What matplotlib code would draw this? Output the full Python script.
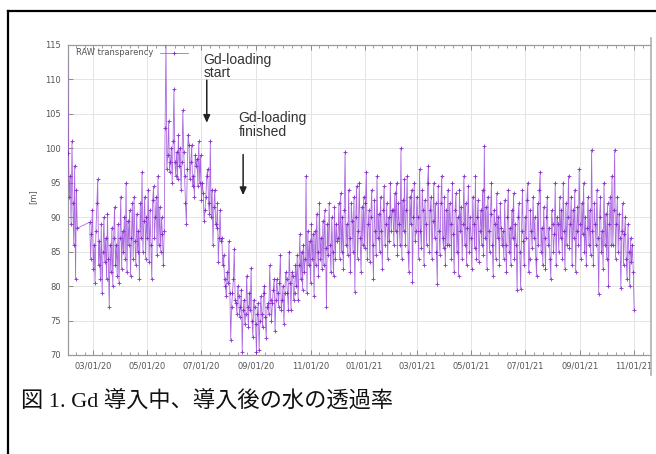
import matplotlib
matplotlib.use("Agg")
import matplotlib.pyplot as plt
import matplotlib.dates as mdates
from matplotlib.lines import Line2D
import numpy as np
import pandas as pd

# ---------------- data (daily values in m) ----------------
seg0_start = "2020-02-01"
seg0_vals = [115.5, 99.3, 93, 96, 89, 101, 92, 86, 97.5, 81, 94, 88.4]

seg1_start = "2020-02-26"
seg1_vals = [89.3, 84, 87.5, 91, 82.5, 86, 80.5, 88, 92, 95.5,
             83, 86.5, 81, 89, 79, 85, 90, 83.5, 87, 81,
             90.5, 84, 77, 86, 82, 88.5, 80, 87, 91.5, 83,
             86, 81.5, 89, 80.5, 87, 93, 82.5, 88, 85, 90,
             84, 95, 82, 89.5, 86, 91, 81.5, 87, 92, 84,
             93, 86.5, 83, 90.5, 85, 88, 81, 92, 87, 96.5,
             85, 89.5, 93, 84, 90, 87, 94, 83.5, 91, 86,
             81, 92.5, 94.5, 87, 90, 93, 84.5, 96, 86, 91.5,
             85, 90, 87.5, 83, 88]

seg2_start = "2020-05-21"
seg2_vals = [103, 115.5, 97, 99, 104, 96.5, 98, 100, 95, 101,
             108.6, 98, 96, 99.5, 95.5, 102, 97.5, 100, 94, 98,
             105.5, 99.5, 96, 92, 89, 97, 102, 100.5, 95.5, 98,
             100.5, 94.5, 96, 93, 99, 97.5, 98.5, 94.5, 101, 95,
             99, 92.5]

seg3_start = "2020-07-02"
seg3_vals = [95, 93.5, 89.5, 91, 93, 96, 97, 92, 90.5, 101,
             90, 94, 86, 91.5, 94, 89, 88.5, 92, 83.5, 87,
             91, 86.5, 87, 83, 84.5]

seg4_start = "2020-07-27"
seg4_vals = [81, 80, 78.5, 82, 80.5, 86.5, 79, 72.2, 77, 79,
             81, 85.4, 78, 77.5, 76, 80, 78.5, 75.5, 77, 79.5,
             70.4, 76.5, 78, 74.5, 76, 81.5, 77, 74, 79, 76.5,
             82.6, 75, 72.6, 78, 77, 74.5, 70.5]

seg5_start = "2020-09-02"
seg5_vals = [76, 77.5, 70.7, 75, 78.5, 76, 74, 79, 80, 75.5,
             72.5, 77, 77.5, 76, 83, 78, 75, 77.5, 79.5, 81,
             73.5, 78, 81, 79, 77, 80.5, 84.5, 76.5, 78, 80,
             74.5, 79, 82, 81, 79, 76.5, 85, 80.5, 76.5, 82,
             81.5, 78, 79, 83]

seg6_start = "2020-10-16"
seg6_vals = [80, 84.5, 78, 83, 87.5, 81, 85, 79.5, 86, 82,
             84, 96, 79, 88, 83, 86.5, 80.5, 89, 84, 87.5,
             78.5, 88, 83, 90.5, 85, 81.5, 92, 84, 87, 82.5,
             89.5, 83, 91, 85.5, 77, 89, 84.5, 92, 86, 82,
             90, 85, 81.5, 91.5, 84, 89, 86.5]

seg7_start = "2020-12-02"
seg7_vals = [87, 92, 84, 93.5, 85, 90, 82.5, 91, 99.5, 86,
             89, 84.5, 94, 87, 82, 92, 89.5, 85, 93, 79.2,
             90, 94.5, 84, 88, 95, 87, 82, 91.5, 86, 93,
             85.5, 92, 96.5, 84, 89, 91, 83.5, 90, 94, 86,
             81, 92.5, 88, 84.5, 96, 87, 90.5, 85, 93, 88,
             82.5, 91, 94.5, 86, 89, 92, 84, 90, 86.5, 95,
             88, 91]

seg8_start = "2021-02-02"
seg8_vals = [91, 86, 93.5, 88, 95, 84.5, 92, 89, 86, 100,
             84, 92.5, 88, 95.5, 86, 91, 96, 85, 82, 93,
             89, 94, 80.6, 90, 95, 86.5, 88, 93, 90, 84,
             97, 88, 85.5, 94, 91, 83, 92.5, 89, 86, 95,
             97.5, 85, 91, 93, 84, 89.5, 95, 87, 92, 85,
             80.3, 94.5, 88, 84.5, 92, 96, 87, 85.5, 93, 83,
             91, 86, 94]

seg9_start = "2021-04-06"
seg9_vals = [86, 92, 89, 84, 95, 87.5, 82, 91, 93.5, 85,
             90, 81.5, 94, 88, 91.5, 84, 89, 96, 86, 92,
             83, 88.5, 94.5, 85, 90, 87, 82.5, 93, 89, 85.5,
             96, 84, 90, 92.5, 83.5, 88, 91, 86, 94, 84.5,
             100.3, 87, 91.5, 82.5, 93, 88, 85, 90.5, 95, 86,
             81.5, 91, 89, 84, 93.5, 87, 90, 83, 92, 88.5,
             86]

seg10_start = "2021-06-06"
seg10_vals = [88, 84, 92.5, 86, 82, 90, 94, 85, 88.5, 83,
              91, 87, 93.5, 84, 89, 86, 79.4, 90, 92, 85,
              79.6, 88, 94, 86.5, 83, 90, 87, 92.5, 95, 82,
              84, 91, 88, 85.5, 93, 87, 90, 84, 81.5, 92,
              86, 94, 96.5, 85, 88.5, 83, 91.5, 87, 82.5, 90,
              93, 86, 88.5, 84, 81, 91, 89, 85, 87.5, 95,
              83, 90]

seg11_start = "2021-08-07"
seg11_vals = [89, 85, 93, 87, 91, 84, 95, 88, 82.5, 92,
              86, 90, 96, 85.5, 89, 93, 83, 91, 87, 94,
              82, 88, 91.5, 86, 97, 89, 84, 92, 87.5, 95,
              85, 90, 83, 88.5, 93, 86, 91, 84.5, 99.8, 88,
              83, 92, 89, 86, 94, 87, 78.9, 90, 93, 85,
              88, 82.5, 95, 86, 90.5, 84, 92, 80, 89, 93,
              86, 96]

seg12_start = "2021-10-08"
seg12_vals = [86, 91, 99.8, 84, 89, 93, 85, 90.5, 87, 79.7,
              88, 92, 83, 87.5, 90, 84, 81, 89, 85, 80,
              87, 83.5, 86, 82, 76.5]

segments = [
    (seg0_start, seg0_vals), (seg1_start, seg1_vals), (seg2_start, seg2_vals),
    (seg3_start, seg3_vals), (seg4_start, seg4_vals), (seg5_start, seg5_vals),
    (seg6_start, seg6_vals), (seg7_start, seg7_vals), (seg8_start, seg8_vals),
    (seg9_start, seg9_vals), (seg10_start, seg10_vals), (seg11_start, seg11_vals),
    (seg12_start, seg12_vals),
]

series_label = "RAW transparency"
y_label = "[m]"
caption = "図 1. Gd 導入中、導入後の水の透過率"
ann_start = "Gd-loading\nstart"
ann_finish = "Gd-loading\nfinished"

dates = []
values = []
for start, vals in segments:
    dates.extend(list(pd.date_range(start, periods=len(vals), freq="1D")))
    values.extend(vals)
dates = pd.to_datetime(dates)
values = np.array(values, dtype=float)

# ---------------- figure ----------------
W, H = 656, 454
fig = plt.figure(figsize=(W / 100, H / 100), dpi=100)
fig.patch.set_facecolor("white")

def fx(px):
    return px / W

def fy(py):
    return 1 - py / H

ax_l, ax_r, ax_t, ax_b = 68, 651, 45, 355
ax = fig.add_axes([fx(ax_l), fy(ax_b), fx(ax_r) - fx(ax_l), fy(ax_t) - fy(ax_b)])

ax.plot(dates, values, color="#9644d8", lw=0.6, alpha=0.8,
        marker="+", ms=2.4, mew=0.65, mec="#7612c4", label=series_label, zorder=3)

ax.set_ylim(70, 115)
ax.set_xlim(pd.Timestamp("2020-02-01 12:00"), pd.Timestamp("2021-11-20"))
ax.set_yticks(np.arange(70, 116, 5))
ax.xaxis.set_major_locator(mdates.MonthLocator(bymonth=[1, 3, 5, 7, 9, 11]))
ax.xaxis.set_major_formatter(mdates.DateFormatter("%m/%d/%y"))
ax.xaxis.set_minor_locator(mdates.DayLocator(bymonthday=[1, 11, 21]))

ax.grid(True, which="major", color="#e4e4e4", lw=0.7, zorder=0)
for s in ["left", "bottom", "top"]:
    ax.spines[s].set_color("#9a9a9a")
    ax.spines[s].set_linewidth(0.9)
ax.spines["right"].set_visible(False)
ax.tick_params(axis="both", which="both", direction="in", colors="#8a8a8a",
               labelcolor="#555555", labelsize=6, top=True, right=False)
ax.tick_params(axis="both", which="major", length=3.5, width=0.7)
ax.tick_params(axis="x", which="minor", length=2, width=0.6)
ax.tick_params(axis="y", which="major", pad=5)
ax.tick_params(axis="x", which="major", pad=5)

leg = ax.legend(loc="upper left", bbox_to_anchor=(0.005, 1.005), frameon=False,
                markerfirst=False, fontsize=6, handlelength=3.4,
                handletextpad=0.8, borderaxespad=0.2)
for t in leg.get_texts():
    t.set_color("#555555")

# annotations
ann_kw = dict(fontsize=10, family=["Liberation Sans", "DejaVu Sans"], color="#333333",
              ha="left", va="top", linespacing=0.95)
ax.text(pd.Timestamp("2020-07-03"), 113.9, ann_start, **ann_kw)
ax.text(pd.Timestamp("2020-08-12"), 105.4, ann_finish, **ann_kw)
arrow_kw = dict(arrowstyle="-|>,head_length=0.45,head_width=0.2", color="#222222", lw=1.1)
ax.annotate("", xy=(pd.Timestamp("2020-07-07"), 103.3), xytext=(pd.Timestamp("2020-07-07"), 110.3),
            arrowprops=arrow_kw)
ax.annotate("", xy=(pd.Timestamp("2020-08-17"), 92.8), xytext=(pd.Timestamp("2020-08-17"), 99.5),
            arrowprops=arrow_kw)

# y label
fig.text(fx(33), fy(197), y_label, rotation=90, fontsize=6, color="#555555",
         ha="center", va="center")

# embedded image right edge and outer black frame
fig.add_artist(Line2D([fx(651), fx(651)], [fy(38), fy(375)], color="#b0b0b0", lw=1.2))
fig.add_artist(Line2D([fx(7.5), fx(7.5)], [fy(11), 0], color="black", lw=1.6))
fig.add_artist(Line2D([fx(7.5), 1], [fy(11), fy(11)], color="black", lw=1.6))

# caption
fig.text(fx(21), fy(401), caption, fontsize=16,
         family=["Liberation Serif", "Noto Sans CJK JP", "DejaVu Sans"],
         color="#111111", ha="left", va="center")

fig.savefig("out.png", dpi=100, facecolor="white")
